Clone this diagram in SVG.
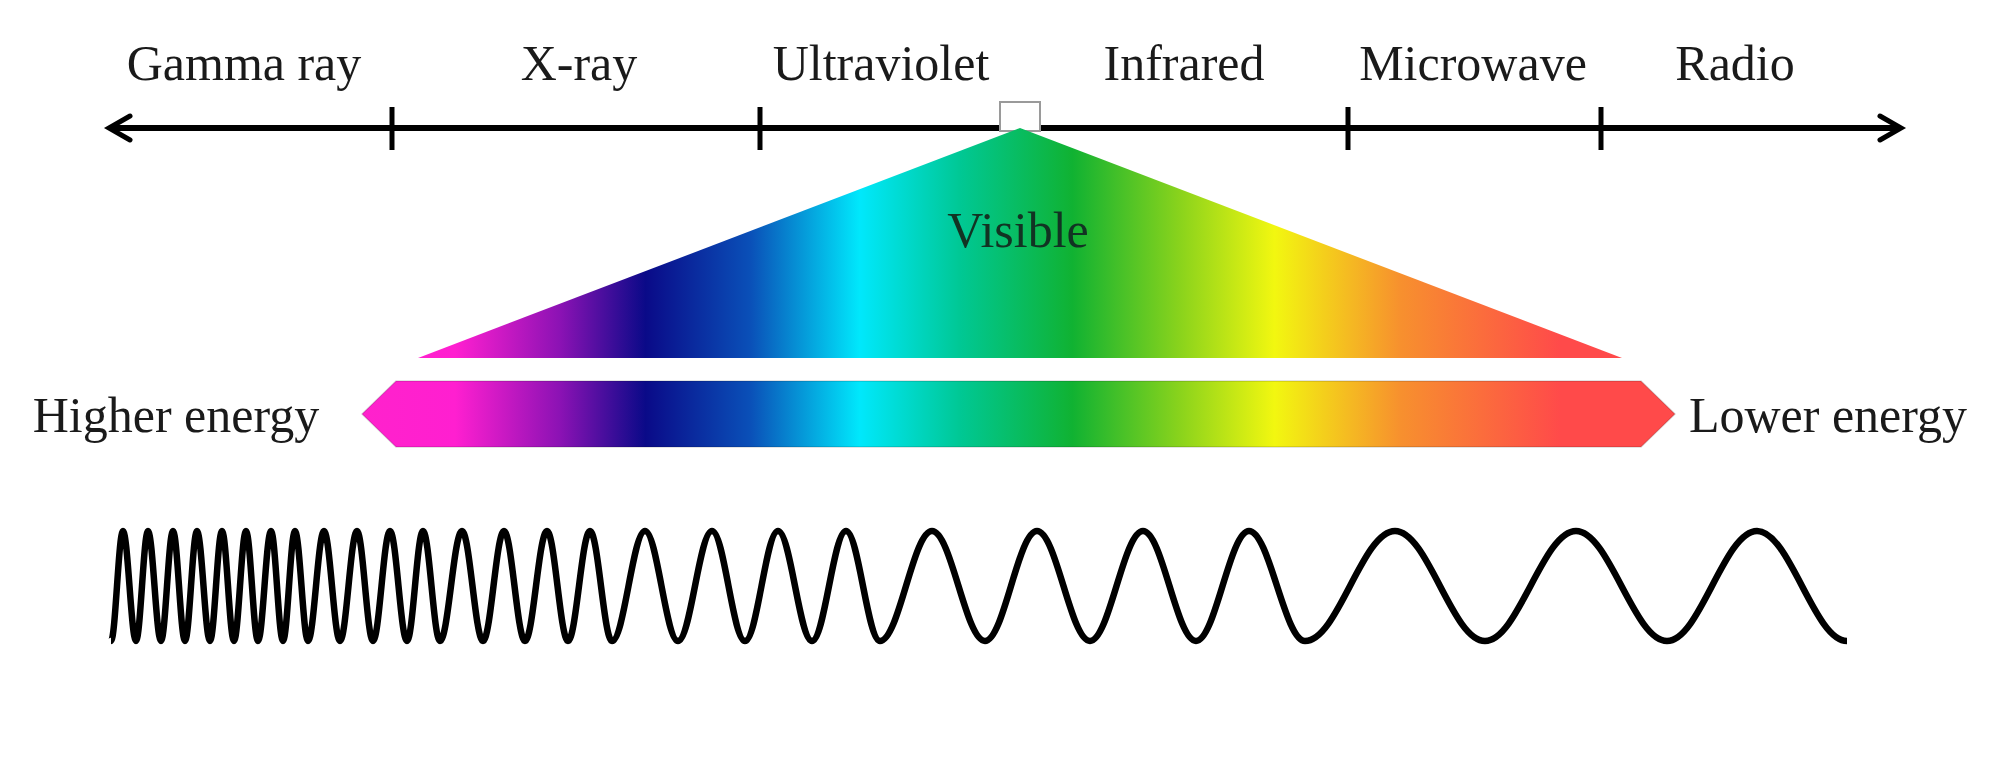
<svg xmlns="http://www.w3.org/2000/svg" width="2000" height="773" viewBox="0 0 2000 773">
  <style>
    .lbl { font-family: "Liberation Serif", "Times New Roman", serif; font-size: 50px; fill: #1a1a1a; text-anchor: middle; }
    .axis { stroke: #000; stroke-width: 6; fill: none; }
    .tick { stroke: #000; stroke-width: 5; }
    .head { stroke: #000; stroke-width: 5; fill: none; stroke-linecap: round; stroke-linejoin: miter; }
    .wave { stroke: #000; stroke-width: 6.5; fill: none; stroke-linejoin: round; }
  </style>
  <defs>
    <linearGradient id="spec" gradientUnits="userSpaceOnUse" x1="362" y1="0" x2="1675" y2="0">
      <stop offset="0" stop-color="#ff22cc"/>
      <stop offset="0.071" stop-color="#ff1fd0"/>
      <stop offset="0.151" stop-color="#8b12b4"/>
      <stop offset="0.216" stop-color="#0a0a88"/>
      <stop offset="0.296" stop-color="#0a50b8"/>
      <stop offset="0.379" stop-color="#00e8fc"/>
      <stop offset="0.455" stop-color="#00c895"/>
      <stop offset="0.541" stop-color="#10b232"/>
      <stop offset="0.623" stop-color="#8ad31c"/>
      <stop offset="0.695" stop-color="#f2f710"/>
      <stop offset="0.791" stop-color="#f7902e"/>
      <stop offset="0.913" stop-color="#ff4a4a"/>
      <stop offset="1" stop-color="#ff4a4a"/>
    </linearGradient>
  </defs>
  <rect width="2000" height="773" fill="#ffffff"/>

  <g id="connectors">
    <line class="axis" x1="110" y1="128" x2="1900" y2="128"/>
    <polyline class="head" points="130,116 109,128 130,140"/>
    <polyline class="head" points="1880,116 1901,128 1880,140"/>
    <line class="tick" x1="392" y1="107" x2="392" y2="150"/>
    <line class="tick" x1="760" y1="107" x2="760" y2="150"/>
    <line class="tick" x1="1348" y1="107" x2="1348" y2="150"/>
    <line class="tick" x1="1601" y1="107" x2="1601" y2="150"/>
  </g>

  <g id="visible-marker">
    <rect x="1000" y="102" width="40" height="29" fill="#ffffff" stroke="#9a9a9a" stroke-width="2"/>
  </g>

  <g id="visible-triangle">
    <polygon points="418,358 1020,128 1622,358" fill="url(#spec)"/>
    <text class="lbl" x="1018" y="247" style="fill:#123323">Visible</text>
  </g>

  <g id="energy-bar">
    <polygon points="362,414 396,381 1641,381 1675,414 1641,447 396,447" fill="url(#spec)" stroke="#000" stroke-opacity="0.15" stroke-width="1.5"/>
  </g>

  <g id="label-gamma"><text class="lbl" x="244" y="80">Gamma ray</text></g>
  <g id="label-xray"><text class="lbl" x="579" y="80">X-ray</text></g>
  <g id="label-uv"><text class="lbl" x="881" y="80">Ultraviolet</text></g>
  <g id="label-ir"><text class="lbl" x="1184" y="80">Infrared</text></g>
  <g id="label-microwave"><text class="lbl" x="1473" y="80">Microwave</text></g>
  <g id="label-radio"><text class="lbl" x="1735" y="80">Radio</text></g>
  <g id="label-higher"><text class="lbl" x="176" y="432">Higher energy</text></g>
  <g id="label-lower"><text class="lbl" x="1828" y="432">Lower energy</text></g>

  <g id="wave">
    <path class="wave" d="M111,641
      C115.4,641 118.6,531 123,531
      C127.7,531 131.3,641 136,641
      C140.4,641 143.6,531 148,531
      C152.7,531 156.3,641 161,641
      C165.4,641 168.6,531 173,531
      C177.4,531 180.6,641 185,641
      C189.4,641 192.6,531 197,531
      C201.7,531 205.3,641 210,641
      C214.4,641 217.6,531 222,531
      C226.4,531 229.6,641 234,641
      C238.4,641 241.6,531 246,531
      C250.4,531 253.6,641 258,641
      C262.7,641 266.3,531 271,531
      C275.4,531 278.6,641 283,641
      C287.4,641 290.6,531 295,531
      C299.7,531 303.3,641 308,641
      C313.8,641 318.2,531 324,531
      C329.8,531 334.2,641 340,641
      C346.2,641 350.8,531 357,531
      C362.8,531 367.2,641 373,641
      C379.2,641 383.8,531 390,531
      C396.2,531 400.8,641 407,641
      C412.8,641 417.2,531 423,531
      C429.2,531 433.8,641 440,641
      C448,641 454,531 462,531
      C469.6,531 475.4,641 483,641
      C490.6,641 496.4,531 504,531
      C511.6,531 517.4,641 525,641
      C533,641 539,531 547,531
      C554.6,531 560.4,641 568,641
      C576,641 582,531 590,531
      C598,531 604,641 612,641
      C624,641 633,531 645,531
      C657,531 666,641 678,641
      C690.4,641 699.6,531 712,531
      C724,531 733,641 745,641
      C757,641 766,531 778,531
      C790.4,531 799.6,641 812,641
      C824.4,641 833.6,531 846,531
      C858.4,531 867.6,641 880,641
      C898.9,641 913.1,531 932,531
      C951.3,531 965.7,641 985,641
      C1003.9,641 1018.1,531 1037,531
      C1056.3,531 1070.7,641 1090,641
      C1109.3,641 1123.7,531 1143,531
      C1162.3,531 1176.7,641 1196,641
      C1215.3,641 1229.7,531 1249,531
      C1269.4,531 1284.6,641 1305,641
      C1337.8,641 1362.2,531 1395,531
      C1427.8,531 1452.2,641 1485,641
      C1518.1,641 1542.9,531 1576,531
      C1609.1,531 1633.9,641 1667,641
      C1699.8,641 1724.2,531 1757,531
      C1789.8,531 1814.2,641 1847,641"/>
  </g>
</svg>
